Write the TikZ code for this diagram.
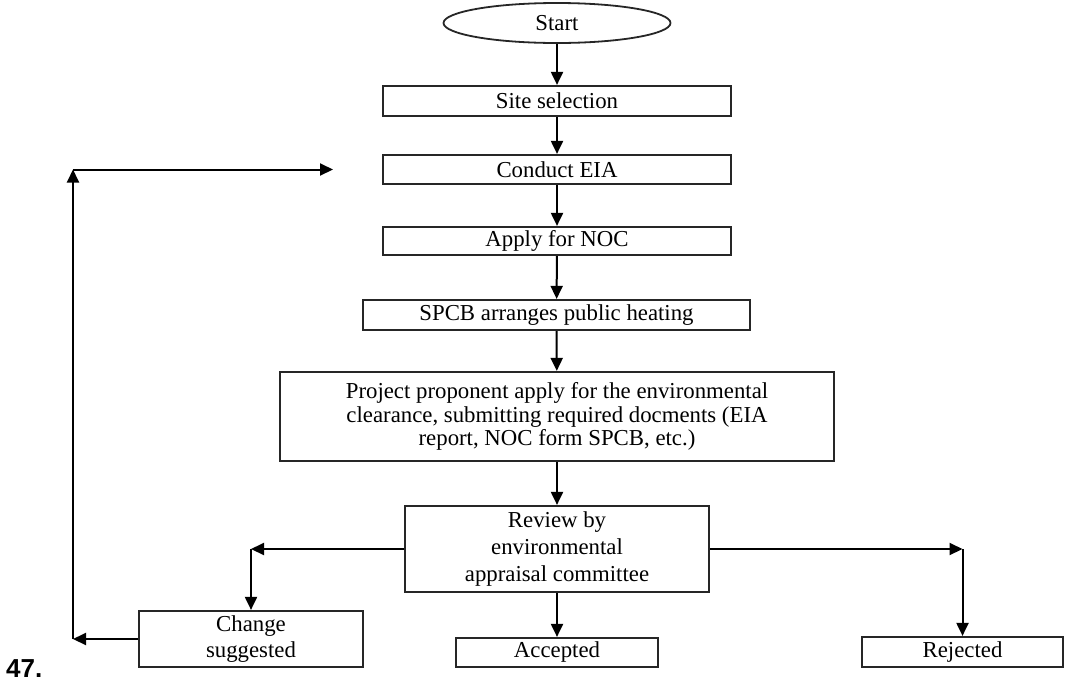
\documentclass[tikz,border=0pt]{standalone}
\usepackage{fontspec}
\setmainfont{Liberation Serif}
\newfontfamily\labelfont{Liberation Sans}
\usetikzlibrary{arrows.meta,shapes.geometric,calc}

\begin{document}
\begin{tikzpicture}[x=1pt, y=-1pt, >={Triangle[length=13pt,width=12pt]}]

    \useasboundingbox (0,0) rectangle (1065,686);

    \tikzset{boxstyle/.style={draw=black!85, line width=2.2pt, inner sep=0pt,
        align=center, font=\fontsize{22.8}{26.7}\selectfont}}
    \tikzset{startstyle/.style={draw=black!85, line width=1.8pt, shape=ellipse, inner sep=0pt,
        minimum width=227pt, minimum height=40pt, font=\fontsize{22.8}{26.7}\selectfont}}

    \node[startstyle] (start) at (557, 23) {Start};
    \node[boxstyle, minimum width=348pt, minimum height=30pt] (site) at (557, 101) {Site selection};
    \node[boxstyle, minimum width=348pt, minimum height=29pt] (eia) at (557, 169.5) {Conduct EIA};
    \node[boxstyle, minimum width=348pt, minimum height=28pt] (noc) at (557, 241) {Apply for NOC};
    \node[boxstyle, minimum width=387pt, minimum height=30pt] (spcb) at (556.5, 315) {SPCB arranges public heating};
    \node[boxstyle, minimum width=554pt, minimum height=89pt,
        font=\fontsize{22.8}{23.3}\selectfont] (apply) at (557, 416.5)
        {Project proponent apply for the environmental\\clearance, submitting required docments (EIA\\report, NOC form SPCB, etc.)};
    \node[boxstyle, minimum width=304pt, minimum height=86pt] (review) at (557, 549)
        {Review by\\environmental\\appraisal committee};
    \node[boxstyle, minimum width=224pt, minimum height=56pt] (change) at (251, 639) {Change\\suggested};
    \node[boxstyle, minimum width=202pt, minimum height=29pt] (accepted) at (557, 652.5) {Accepted};
    \node[boxstyle, minimum width=201pt, minimum height=30pt] (rejected) at (962.5, 652) {Rejected};

    \node[anchor=base west, inner sep=0pt, font=\labelfont\bfseries\fontsize{26}{30}\selectfont] (num) at (6, 677) {47.};

    % corners of the side branches
    \coordinate (cl) at (change.north |- review.west);
    \coordinate (cr) at (rejected.north |- review.east);
    \coordinate (back1) at (73, 639);
    \coordinate (back2) at (73, 169.5);
    \coordinate (back3) at (333, 169.5);

    \begin{scope}[every path/.style={line width=2pt}]
        \draw[->] (start) -- (site);
        \draw[->] (site) -- (eia);
        \draw[->] (eia) -- (noc);
        \draw[->] (noc) -- (spcb);
        \draw[->] (spcb) -- (apply);
        \draw[->] (apply) -- (review);
        \draw[->] (review) -- (accepted);
        \draw[->] (review.west) -- (cl);
        \draw[->] (cl) -- (change.north);
        \draw[->] (review.east) -- (cr);
        \draw[->] (cr) -- (rejected.north);
        \draw[->] (change.west) -- (back1);
        \draw[->] (back1) -- (back2);
        \draw[->] (back2) -- (back3);
    \end{scope}

\end{tikzpicture}
\end{document}
